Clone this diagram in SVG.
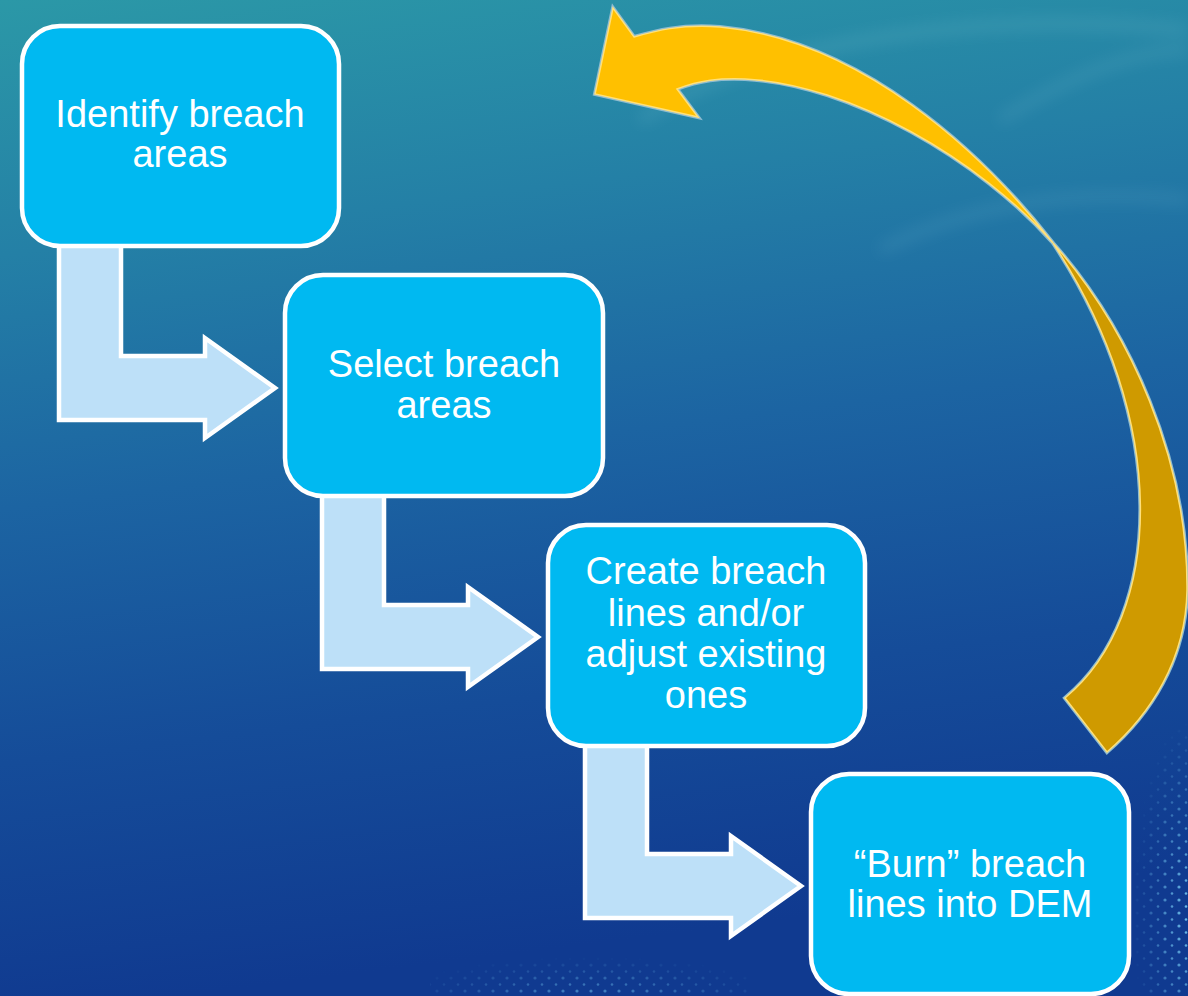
<svg xmlns="http://www.w3.org/2000/svg" width="1188" height="996" viewBox="0 0 1188 996">
  <defs>
    <linearGradient id="bg" x1="0" y1="0" x2="0.15" y2="1">
      <stop offset="0" stop-color="#2B98A7"/>
      <stop offset="0.25" stop-color="#2480A6"/>
      <stop offset="0.5" stop-color="#1C64A2"/>
      <stop offset="0.75" stop-color="#154C99"/>
      <stop offset="1" stop-color="#103A90"/>
    </linearGradient>
    <filter id="blur8" x="-20%" y="-50%" width="140%" height="200%">
      <feGaussianBlur stdDeviation="8"/>
    </filter>
    <pattern id="dots" width="14" height="13" patternUnits="userSpaceOnUse">
      <circle cx="3" cy="3" r="1.6" fill="#6EC0EC"/>
      <circle cx="10" cy="9.5" r="1.3" fill="#6EC0EC"/>
    </pattern>
    <radialGradient id="fadeR" cx="1" cy="0.7" r="0.7">
      <stop offset="0" stop-color="#fff" stop-opacity="1"/>
      <stop offset="1" stop-color="#fff" stop-opacity="0"/>
    </radialGradient>
    <radialGradient id="fadeB" cx="0.5" cy="1" r="0.6">
      <stop offset="0" stop-color="#fff" stop-opacity="0.6"/>
      <stop offset="1" stop-color="#fff" stop-opacity="0"/>
    </radialGradient>
    <mask id="mR"><rect x="1110" y="720" width="78" height="276" fill="url(#fadeR)"/></mask>
    <mask id="mB"><rect x="430" y="930" width="320" height="66" fill="url(#fadeB)"/></mask>
    <style>
      .box { fill: #00B9F1; stroke: #FFFFFF; stroke-width: 4.5; }
      .bent { fill: #BDE0F8; stroke: #FFFFFF; stroke-width: 4.5; stroke-linejoin: miter; }
      .lbl { font-family: "Liberation Sans", Arial, sans-serif; font-size: 38px; fill: #FFFFFF; text-anchor: middle; }
      .halo { fill: none; stroke: #8FBCD0; stroke-width: 4; stroke-linejoin: miter; }
      .cycA { fill: #FFC000; stroke: #FFE07A; stroke-width: 1.5; stroke-linejoin: miter; }
      .cycB { fill: #CF9A00; stroke: #FFE07A; stroke-width: 1.5; stroke-linejoin: miter; }
    </style>
  </defs>

  <!-- background -->
  <rect x="0" y="0" width="1188" height="996" fill="url(#bg)"/>
  <g opacity="0.12" filter="url(#blur8)">
    <path d="M 640 120 C 760 40 980 10 1188 30" fill="none" stroke="#BFF0F5" stroke-width="10"/>
    <path d="M 880 250 C 980 200 1080 190 1188 200" fill="none" stroke="#BFF0F5" stroke-width="8"/>
    <path d="M 1000 120 C 1080 70 1140 50 1188 50" fill="none" stroke="#BFF0F5" stroke-width="8"/>
  </g>
  <rect x="1110" y="720" width="78" height="276" fill="url(#dots)" mask="url(#mR)"/>
  <rect x="430" y="930" width="320" height="66" fill="url(#dots)" mask="url(#mB)"/>

  <!-- connectors -->
  <g id="connectors">
    <path class="bent" d="M59,240 L121,240 L121,356 L205,356 L205,338 L275,388 L205,438 L205,420 L59,420 Z"/>
    <path class="bent" d="M322,489 L384,489 L384,605 L468,605 L468,587 L538,637 L468,687 L468,669 L322,669 Z"/>
    <path class="bent" d="M585,738 L647,738 L647,854 L731,854 L731,836 L801,886 L731,936 L731,918 L585,918 Z"/>
    <g id="cycle-arrow">
      <path class="halo" d="M1053,243 C1130,330 1188,460 1187,590 C1186,660 1150,715 1107,752 L1065,698 C1165,615 1170,420 1053,243 Z"/>
      <path class="cycB" d="M1053,243 C1130,330 1188,460 1187,590 C1186,660 1150,715 1107,752 L1065,698 C1165,615 1170,420 1053,243 Z"/>
      <path class="halo" d="M1053,243 C980,150 860,40 720,27 C680,24 655,31 634,37 L613,8 L595,94 L698,117 L677,89 C700,80 720,78 745,79 C850,84 980,160 1053,243 Z"/>
      <path class="cycA" d="M1053,243 C980,150 860,40 720,27 C680,24 655,31 634,37 L613,8 L595,94 L698,117 L677,89 C700,80 720,78 745,79 C850,84 980,160 1053,243 Z"/>
    </g>
  </g>

  <!-- nodes -->
  <g id="node1">
    <rect class="box" x="22" y="26" width="317" height="220" rx="38" ry="38"/>
    <text class="lbl" x="180" y="127">Identify breach</text>
    <text class="lbl" x="180" y="167">areas</text>
  </g>
  <g id="node2">
    <rect class="box" x="285" y="275" width="318" height="221" rx="38" ry="38"/>
    <text class="lbl" x="444" y="377">Select breach</text>
    <text class="lbl" x="444" y="418">areas</text>
  </g>
  <g id="node3">
    <rect class="box" x="548" y="525" width="317" height="221" rx="38" ry="38"/>
    <text class="lbl" x="706" y="584">Create breach</text>
    <text class="lbl" x="706" y="626">lines and/or</text>
    <text class="lbl" x="706" y="667">adjust existing</text>
    <text class="lbl" x="706" y="708">ones</text>
  </g>
  <g id="node4">
    <rect class="box" x="811" y="774" width="318" height="220" rx="38" ry="38"/>
    <text class="lbl" x="970" y="877">“Burn” breach</text>
    <text class="lbl" x="970" y="917">lines into DEM</text>
  </g>
</svg>
